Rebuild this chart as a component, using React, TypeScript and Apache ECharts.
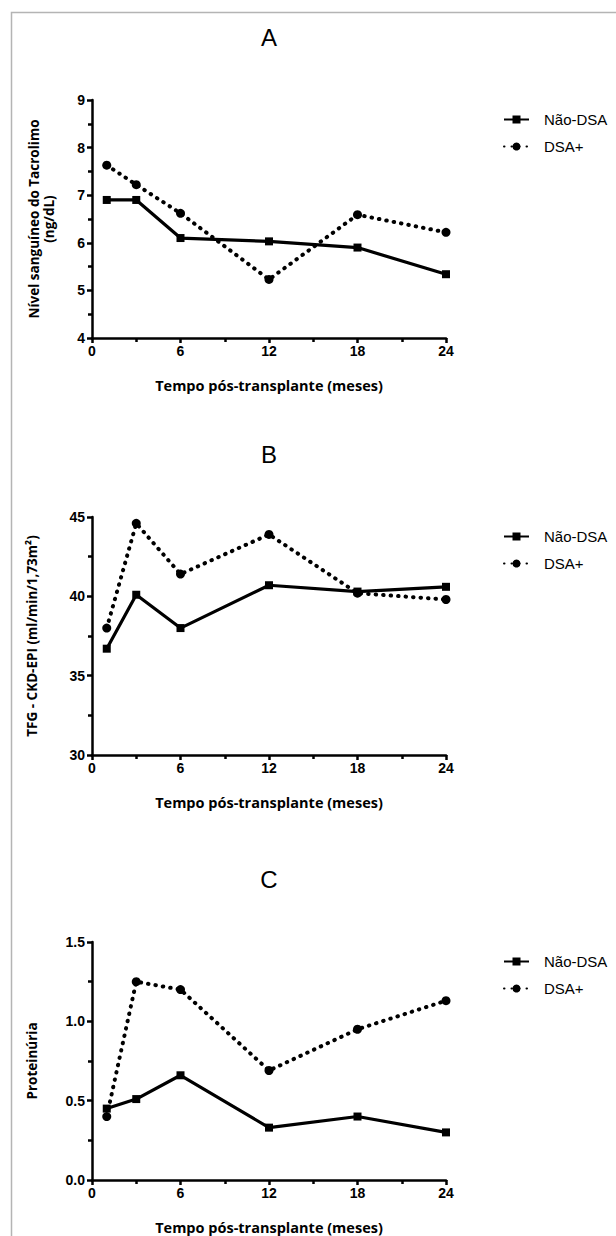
import React, { useEffect, useRef } from "react";
import * as echarts from "echarts";

// ---- data ----
const months = [1, 3, 6, 12, 18, 24];
const seriesNames = ["Não-DSA", "DSA+"];
const panelTitles = ["A", "B", "C"];
const xTitle = "Tempo pós-transplante (meses)";
const yTitles = [
  "Nível sanguíneo do Tacrolimo\n(ng/dL)",
  "TFG - CKD-EPI (ml/min/1,73m²)",
  "Proteinúria",
];
const tacNaoDsa = [6.9, 6.9, 6.1, 6.03, 5.9, 5.34];
const tacDsa = [7.63, 7.22, 6.62, 5.23, 6.59, 6.22];
const tfgNaoDsa = [36.7, 40.1, 38.0, 40.7, 40.3, 40.6];
const tfgDsa = [38.0, 44.6, 41.4, 43.9, 40.2, 39.8];
const protNaoDsa = [0.45, 0.51, 0.66, 0.33, 0.4, 0.3];
const protDsa = [0.4, 1.25, 1.2, 0.69, 0.95, 1.13];
const yMins = [4, 30, 0];
const yMaxs = [9, 45, 1.5];
const yIntervals = [1, 5, 0.5];
const yDecimals = [0, 0, 1];

const panelData = [
  [tacNaoDsa, tacDsa],
  [tfgNaoDsa, tfgDsa],
  [protNaoDsa, protDsa],
];

// ---- layout ----
const gridLeft = 92;
const gridWidth = 354;
const gridHeight = 238;
const gridTops = [100, 517, 942];
const yNameGaps = [36, 53, 53];

export default function App() {
  const ref = useRef<HTMLDivElement>(null);

  useEffect(() => {
    if (!ref.current) return;
    const chart = echarts.init(ref.current, null, { renderer: "svg" });
    const black = "#000";
    const tickFont = { fontFamily: "Liberation Sans", fontWeight: "bold" as const, fontSize: 14, color: black };
    const yNameFont = { fontFamily: "Open Sans", fontWeight: "bold" as const, fontSize: 13.5, color: black, lineHeight: 15 };
    const xNameFont = { fontFamily: "Open Sans", fontWeight: "bold" as const, fontSize: 14.5, color: black };

    const grids = gridTops.map((t) => ({ left: gridLeft, top: t, width: gridWidth, height: gridHeight }));
    const xAxes = gridTops.map((_, i) => ({
      type: "value",
      gridIndex: i,
      min: 0,
      max: 24,
      interval: 6,
      name: xTitle,
      nameLocation: "middle",
      nameGap: 40,
      nameTextStyle: xNameFont,
      axisLine: { show: true, lineStyle: { color: black, width: 2.5 } },
      axisTick: { show: true, length: 5, lineStyle: { color: black, width: 2.5 } },
      minorTick: { show: true, splitNumber: 2, length: 4, lineStyle: { color: black, width: 2.5 } },
      splitLine: { show: false },
      axisLabel: { ...tickFont, margin: 6 },
    }));
    const yAxes = gridTops.map((_, i) => ({
      type: "value",
      gridIndex: i,
      min: yMins[i],
      max: yMaxs[i],
      interval: yIntervals[i],
      name: yTitles[i],
      nameLocation: "middle",
      nameGap: yNameGaps[i],
      nameRotate: 90,
      nameTextStyle: yNameFont,
      axisLine: { show: true, lineStyle: { color: black, width: 2.5 } },
      axisTick: { show: true, length: 5, lineStyle: { color: black, width: 2.5 } },
      minorTick: { show: true, splitNumber: 2, length: 4, lineStyle: { color: black, width: 2.5 } },
      splitLine: { show: false },
      axisLabel: {
        ...tickFont,
        margin: 7,
        formatter: (v: number) => v.toFixed(yDecimals[i]),
      },
    }));

    const series: any[] = [];
    panelData.forEach((pair, i) => {
      series.push({
        type: "line",
        name: seriesNames[0],
        xAxisIndex: i,
        yAxisIndex: i,
        data: months.map((m, j) => [m, pair[0][j]]),
        symbol: "rect",
        symbolSize: 8,
        itemStyle: { color: black },
        lineStyle: { color: black, width: 3.2 },
        z: 3,
      });
      series.push({
        type: "line",
        name: seriesNames[1],
        xAxisIndex: i,
        yAxisIndex: i,
        data: months.map((m, j) => [m, pair[1][j]]),
        symbol: "circle",
        symbolSize: 9,
        itemStyle: { color: black },
        lineStyle: { color: black, width: 4, type: [0.5, 7], cap: "round" },
        z: 2,
      });
    });

    const legends = gridTops.map((t) => ({
      orient: "vertical",
      left: 498,
      top: t + 7,
      itemWidth: 25,
      itemHeight: 10,
      itemGap: 12,
      selectedMode: false,
      data: seriesNames,
      textStyle: { fontFamily: "Liberation Sans", fontSize: 15, color: black, padding: [0, 0, 0, 10] },
    }));

    const graphics: any[] = [
      {
        type: "rect",
        shape: { x: 11.5, y: 12.5, width: 640, height: 1260 },
        style: { fill: "none", stroke: "#b4b4b4", lineWidth: 1.5 },
        silent: true,
      },
      ...gridTops.map((t, i) => ({
        type: "text",
        x: gridLeft + gridWidth / 2,
        y: t - 63,
        style: {
          text: panelTitles[i],
          align: "center",
          verticalAlign: "middle",
          fontFamily: "Liberation Sans",
          fontSize: 24,
          fill: black,
        },
      })),
    ];

    chart.setOption({
      animation: false,
      backgroundColor: "#fff",
      grid: grids,
      xAxis: xAxes,
      yAxis: yAxes,
      legend: legends,
      series,
      graphic: graphics,
    });
    return () => chart.dispose();
  }, []);

  return (
    <div
      ref={ref}
      style={{ position: "absolute", left: 0, top: 0, width: 616, height: 1236 }}
    />
  );
}
